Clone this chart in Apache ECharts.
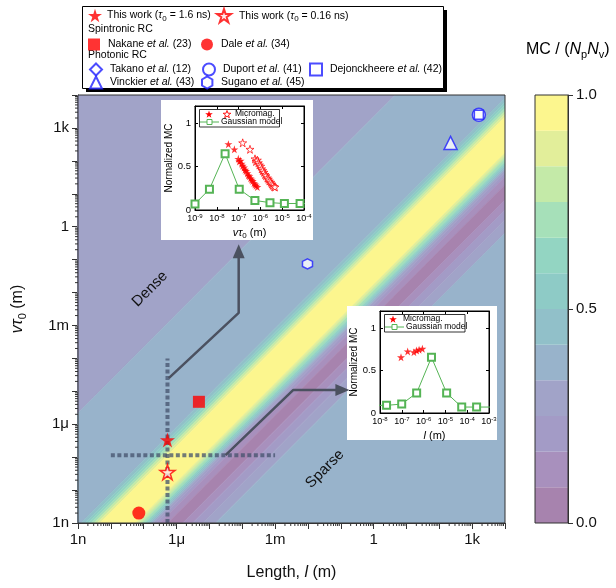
<!DOCTYPE html>
<html lang="en">
<head>
<meta charset="UTF-8">
<title>MC map</title>
<style>
  html, body { margin: 0; background: #fff; }
  #chart { width: 616px; height: 588px; }
</style>
</head>
<body>
<div id="chart"></div>
<script src="https://cdn.jsdelivr.net/npm/echarts@6/dist/echarts.min.js"></script>
<script>
const lg = Math.log10;
const FONT = '"Liberation Sans", Arial, sans-serif';

// main map: one label every three decades
const decadeLabels = { '-9': '1n', '-6': '1μ', '-3': '1m', '0': '1', '3': '1k' };

// colour of each MC/(NpNv) level, 0.0 -> 1.0 in twelve steps
const levelColors = ['#a783ae', '#a890bd', '#a39bc6', '#a1a3c8', '#98b3cb', '#91c0c9',
                     '#8ecbc6', '#93d5c2', '#a6e0b9', '#c4eaa8', '#e2ee9a', '#fcf68e'];

// contour bands: edges in log10(vτ0 / l), and the level that fills each band
const ratioEdges = [30, 3.34, -0.09, -0.21, -0.30, -0.40, -0.49, -0.58, -0.67, -1.76, -1.85, -1.94,
                    -2.04, -2.10, -2.16, -2.22, -2.28, -2.37, -2.49, -2.73, -3.19, -3.49, -3.80, -4.19, -30];
const bandLevels = [3, 4, 5, 6, 7, 8, 9, 10, 11, 10, 9, 8, 7, 6, 5, 4, 3, 2, 1, 0, 1, 2, 3, 4];

// reported systems, [l, vτ0] in metres
const thisWork16 = [5.3e-7, 3.3e-7];
const thisWork016 = [5.3e-7, 3.5e-8];
const nakane = [4.8e-6, 4.8e-6];
const dale = [7.1e-8, 2.0e-9];
const takano = [];
const duport = [1.6e3, 2.5e3];
const dejonckheere = [1.6e3, 2.5e3];
const vinckier = [2.2e2, 3.5e2];
const sugano = [9.7e-3, 7.4e-2];

// dotted sweep lines
const sweepL = 5.3e-7;
const sweepVtRange = [1e-9, 1e-4];
const sweepVt = 1.15e-7;
const sweepLRange = [1e-8, 1e-3];

// arrows from the sweeps to the insets, [l, vτ0] in metres
const arrowUp = [[5.8e-7, 2.5e-5], [7.8e-5, 2.4e-3], [7.8e-5, 0.18]];
const arrowRight = [[3.1e-5, 1.16e-7], [3.6e-3, 1.1e-5], [0.112, 1.1e-5]];

// inset 1: normalized MC vs vτ0
const g1Vt = [1e-9, 4.6e-9, 2.4e-8, 1.07e-7, 5.6e-7, 2.75e-6, 1.26e-5, 6.6e-5, 3.2e-4];
const g1MC = [0.07, 0.24, 0.65, 0.24, 0.11, 0.085, 0.075, 0.075, 0.075];
const mm1Vt = [3.4e-8, 6.4e-8, 9.7e-8, 1.08e-7, 1.24e-7, 1.38e-7, 1.54e-7, 1.77e-7, 1.97e-7, 2.18e-7,
               2.52e-7, 2.79e-7, 3.1e-7, 3.57e-7, 3.97e-7, 4.42e-7, 5.08e-7, 5.65e-7, 6.28e-7, 7.23e-7];
const mm1MC = [0.76, 0.70, 0.59, 0.56, 0.57, 0.535, 0.51, 0.49, 0.465, 0.45,
               0.425, 0.40, 0.39, 0.365, 0.35, 0.335, 0.31, 0.295, 0.28, 0.265];
const mm1bVt = [1.54e-7, 3.33e-7, 5.65e-7, 6.28e-7, 7.23e-7, 8.04e-7, 8.93e-7, 1.03e-6, 1.14e-6, 1.27e-6, 1.46e-6,
                1.63e-6, 1.81e-6, 2.08e-6, 2.31e-6, 2.57e-6, 2.96e-6, 3.29e-6, 3.66e-6, 4.21e-6, 4.68e-6];
const mm1bMC = [0.775, 0.70, 0.59, 0.56, 0.575, 0.545, 0.52, 0.505, 0.475, 0.455, 0.435,
                0.41, 0.395, 0.37, 0.355, 0.335, 0.32, 0.30, 0.285, 0.27, 0.265];

// inset 2: normalized MC vs l
const g2L = [4.2e-9, 2.0e-8, 9.9e-8, 4.8e-7, 2.3e-6, 1.14e-5, 5.6e-5, 2.7e-4, 1.3e-3];
const g2MC = [0.09, 0.09, 0.105, 0.235, 0.655, 0.235, 0.07, 0.07, 0.07];
const mm2L = [9.2e-8, 1.86e-7, 3.6e-7, 4.8e-7, 6.2e-7, 8.8e-7];
const mm2MC = [0.655, 0.725, 0.715, 0.735, 0.745, 0.755];

const insetYLabels = { '0': '0', '0.5': '0.5', '1': '1' };

// ---------- drawing ----------
const STAR = 'M50,0 L61.2,34.5 L97.6,34.5 L68.2,55.9 L79.4,90.5 L50,69.1 L20.6,90.5 L31.8,55.9 L2.4,34.5 L38.8,34.5 Z';
const HEX = 'M0,-10 L8.66,-5 L8.66,5 L0,10 L-8.66,5 L-8.66,-5 Z';
const RED = '#ff0000', BLUE = '#1f1fff', GREEN = '#55b455', ARROW = '#4b5160';

const chart = echarts.init(document.getElementById('chart'));

const rich = {
  i: { fontStyle: 'italic', fontFamily: FONT, fontSize: 16, lineHeight: 20 },
  s: { fontFamily: FONT, fontSize: 11, verticalAlign: 'bottom', lineHeight: 11 }
};
const smallRich = {
  i: { fontStyle: 'italic', fontFamily: FONT, fontSize: 10.5, lineHeight: 15 },
  s: { fontFamily: FONT, fontSize: 8, verticalAlign: 'bottom', lineHeight: 9 }
};
const supRich = { s: { fontFamily: FONT, fontSize: 6, verticalAlign: 'top', lineHeight: 6 } };

function pt(xy) { return [lg(xy[0]), lg(xy[1])]; }

// five-point star outline for the small legend icons
function starPoints(cx, cy, r) {
  const out = [];
  for (let k = 0; k < 10; k++) {
    const a = -Math.PI / 2 + k * Math.PI / 5, rr = k % 2 ? r * 0.4 : r;
    out.push([cx + rr * Math.cos(a), cy + rr * Math.sin(a)]);
  }
  return out;
}

function marker(name, xy, symbol, size, style) {
  return { name, type: 'scatter', xAxisIndex: 0, yAxisIndex: 0, z: 5, symbol, symbolSize: size,
    itemStyle: style, data: xy.length ? [pt(xy)] : [] };
}

function arrow(pts, rot) {
  return { type: 'line', xAxisIndex: 0, yAxisIndex: 0, z: 4, symbol: 'none', silent: true,
    lineStyle: { color: ARROW, width: 2.5 }, itemStyle: { color: ARROW },
    data: pts.map((p, i) => i === pts.length - 1
      ? { value: pt(p), symbol: 'triangle', symbolSize: [12, 14], symbolRotate: rot }
      : pt(p)) };
}

function dotted(pts) {
  return { type: 'line', xAxisIndex: 0, yAxisIndex: 0, z: 3, symbol: 'none', silent: true,
    lineStyle: { color: 'rgba(68,82,108,0.75)', width: 4, type: [4, 2.5], cap: 'butt' },
    data: pts.map(pt) };
}

function renderBand(params, api) {
  const hi = api.value(0), lo = api.value(1);
  const color = levelColors[api.value(2)];
  const a = -40, b = 40;
  const pts = [[a, a + lo], [b, b + lo], [b, b + hi], [a, a + hi]].map(p => api.coord(p));
  return { type: 'polygon', shape: { points: pts }, style: { fill: color, stroke: color, lineWidth: 0.6 } };
}

// log minor ticks (2..9 within each decade) on the main axes
const minorTicks = [];
for (let n = -9; n < 4; n++) for (let k = 2; k <= 9; k++) minorTicks.push([n + lg(k), -9]);

function renderMinor(horizontal) {
  return function (params, api) {
    const v = api.value(0);
    const p = horizontal ? api.coord([v, -9]) : api.coord([-9, v]);
    const shape = horizontal
      ? { x1: p[0], y1: p[1], x2: p[0], y2: p[1] + 3 }
      : { x1: p[0], y1: p[1], x2: p[0] - 3, y2: p[1] };
    return { type: 'line', shape, style: { stroke: '#333', lineWidth: 1 } };
  };
}

function insetAxes(grid, min, max, name) {
  const line = { onZero: false, lineStyle: { color: '#000' } };
  const tick = { show: true, inside: true, length: 3, lineStyle: { color: '#000' } };
  const x = [
    { gridIndex: grid, type: 'value', min, max, interval: 1, z: 3, axisLine: line, axisTick: tick,
      axisLabel: { formatter: v => '10{s|' + v + '}', fontFamily: FONT, fontSize: 9, lineHeight: 12, color: '#000', margin: 3, rich: supRich },
      splitLine: { show: false },
      name, nameLocation: 'middle', nameGap: 15,
      nameTextStyle: { fontFamily: FONT, fontSize: 11, color: '#000', lineHeight: 14, rich: {
        i: { fontStyle: 'italic', fontFamily: FONT, fontSize: 11, lineHeight: 14 },
        s: { fontFamily: FONT, fontSize: 8, verticalAlign: 'bottom', lineHeight: 8 } } } },
    { gridIndex: grid, type: 'value', min, max, interval: 1, z: 3, position: 'top', axisLine: line, axisTick: tick,
      axisLabel: { show: false }, splitLine: { show: false } }
  ];
  const y = [
    { gridIndex: grid, type: 'value', min: 0, max: 1.2, interval: 0.5, z: 3,
      axisLine: { show: true, ...line }, axisTick: tick,
      axisLabel: { formatter: v => insetYLabels[v] ?? '', fontFamily: FONT, fontSize: 9.5, color: '#000', margin: 4 },
      splitLine: { show: false },
      name: 'Normalized MC', nameLocation: 'middle', nameGap: 14,
      nameTextStyle: { fontFamily: FONT, fontSize: 10, color: '#000' } },
    { gridIndex: grid, type: 'value', min: 0, max: 1.2, interval: 0.5, z: 3, position: 'right',
      axisLine: { show: true, ...line }, axisTick: tick,
      axisLabel: { show: false }, splitLine: { show: false } }
  ];
  return { x, y };
}

const in1 = insetAxes(2, -9, -4, '{i|v}{i|τ}{s|0} (m)');
const in2 = insetAxes(3, -8, -3, '{i|l} (m)');

const mainAxisName = { fontFamily: FONT, fontSize: 16, color: '#111', lineHeight: 20, rich };
const mainLine = { onZero: false, lineStyle: { color: '#333' } };
const smallText = (x, y, text) => ({ type: 'text', z: 6, x, y,
  style: { text, fontFamily: FONT, fontSize: 8.5, fill: '#000', verticalAlign: 'middle' } });

const option = {
  animation: false,
  backgroundColor: '#fff',
  title: {
    text: 'MC / ({i|N}{s|p}{i|N}{s|v})', left: 521, top: 35,
    textStyle: { fontFamily: FONT, fontSize: 16, fontWeight: 'normal', color: '#000', lineHeight: 20, rich }
  },
  grid: [
    { left: 77, top: 95, width: 428, height: 428, show: true, z: 6, backgroundColor: 'transparent', borderColor: '#333', borderWidth: 1 },
    { left: 535, top: 95, width: 33, height: 428, show: true, z: 6, backgroundColor: 'transparent', borderColor: '#333', borderWidth: 1 },
    { left: 195, top: 106, width: 109, height: 104, show: true, z: 3, backgroundColor: 'transparent', borderColor: '#000', borderWidth: 1 },
    { left: 380, top: 311, width: 109, height: 102, show: true, z: 3, backgroundColor: 'transparent', borderColor: '#000', borderWidth: 1 }
  ],
  xAxis: [
    { gridIndex: 0, type: 'value', min: -9, max: 4, interval: 1, axisLine: mainLine,
      axisTick: { length: 6, lineStyle: { color: '#333' } },
      axisLabel: { formatter: v => decadeLabels[v] ?? '', fontFamily: FONT, fontSize: 15, color: '#111', margin: 9 },
      splitLine: { show: false },
      name: 'Length, {i|l} (m)', nameLocation: 'middle', nameGap: 40, nameTextStyle: mainAxisName },
    { gridIndex: 1, type: 'category', data: ['MC'], show: false },
    ...in1.x, ...in2.x
  ],
  yAxis: [
    { gridIndex: 0, type: 'value', min: -9, max: 4, interval: 1, axisLine: mainLine,
      axisTick: { length: 6, lineStyle: { color: '#333' } },
      axisLabel: { formatter: v => decadeLabels[v] ?? '', fontFamily: FONT, fontSize: 15, color: '#111', margin: 9 },
      splitLine: { show: false },
      name: '{i|v}{i|τ}{s|0} (m)', nameLocation: 'middle', nameGap: 50, nameTextStyle: mainAxisName },
    { gridIndex: 1, type: 'value', min: 0, max: 1, interval: 0.5, position: 'right',
      axisLine: { show: true, ...mainLine },
      axisTick: { show: true, length: 5, lineStyle: { color: '#333' } },
      axisLabel: { formatter: v => v.toFixed(1), fontFamily: FONT, fontSize: 15, color: '#111', margin: 8 },
      splitLine: { show: false } },
    ...in1.y, ...in2.y
  ],
  legend: [
    { name: 'This work (1.6 ns)', text: 'This work ({i|τ}{s|0} = 1.6 ns)', left: 88, top: 8, size: 14 },
    { name: 'This work (0.16 ns)', text: ' This work ({i|τ}{s|0} = 0.16 ns)', left: 216, top: 8, size: 14 },
    { name: 'Nakane', text: ' Nakane {i|et al.} (23)', left: 88, top: 37, size: 12 },
    { name: 'Dale', text: ' Dale {i|et al.} (34)', left: 201, top: 37, size: 12 },
    { name: 'Takano', text: ' Takano {i|et al.} (12)', left: 89, top: 62, size: 12 },
    { name: 'Duport', text: ' Duport {i|et al.} (41)', left: 202, top: 62, size: 12 },
    { name: 'Dejonckheere', text: ' Dejonckheere {i|et al.} (42)', left: 309, top: 62, size: 12 },
    { name: 'Vinckier', text: ' Vinckier {i|et al.} (43)', left: 89, top: 75, size: 12 },
    { name: 'Sugano', text: ' Sugano {i|et al.} (45)', left: 201, top: 75, size: 12 }
  ].map(c => ({
    data: [c.name], left: c.left, top: c.top, itemWidth: c.size, itemHeight: c.size, padding: 0,
    selectedMode: false, formatter: () => c.text,
    textStyle: { fontFamily: FONT, fontSize: 10.5, color: '#000', lineHeight: 15, rich: smallRich }
  })),
  graphic: [
    { type: 'rect', z: 1, shape: { x: 86, y: 10, width: 361, height: 82 }, style: { fill: '#000' } },
    { type: 'rect', z: 2, shape: { x: 82.5, y: 6.5, width: 361, height: 82 }, style: { fill: '#fff', stroke: '#000', lineWidth: 1 } },
    { type: 'text', z: 3, x: 88, y: 29, style: { text: 'Spintronic RC', fontFamily: FONT, fontSize: 10.5, fill: '#000', verticalAlign: 'middle' } },
    { type: 'text', z: 3, x: 88, y: 55, style: { text: 'Photonic RC', fontFamily: FONT, fontSize: 10.5, fill: '#000', verticalAlign: 'middle' } },
    // inset backgrounds
    { type: 'rect', z: 2, shape: { x: 161, y: 100, width: 152, height: 140 }, style: { fill: '#fff' } },
    { type: 'rect', z: 2, shape: { x: 347, y: 306, width: 150, height: 134 }, style: { fill: '#fff' } },
    // region labels
    { type: 'text', z: 4, x: 150, y: 289, rotation: Math.PI / 4,
      style: { text: 'Dense', fontFamily: FONT, fontSize: 15, fill: '#111', align: 'center', verticalAlign: 'middle' } },
    { type: 'text', z: 4, x: 325, y: 469, rotation: Math.PI / 4,
      style: { text: 'Sparse', fontFamily: FONT, fontSize: 15, fill: '#111', align: 'center', verticalAlign: 'middle' } },
    // inset 1 legend
    { type: 'rect', z: 5, shape: { x: 199.5, y: 109.5, width: 80, height: 17.5 }, style: { fill: '#fff', stroke: '#000', lineWidth: 0.8 } },
    { type: 'polygon', z: 6, shape: { points: starPoints(209, 114.5, 4) }, style: { fill: RED } },
    { type: 'polygon', z: 6, shape: { points: starPoints(227, 114.5, 4) }, style: { fill: '#fff', stroke: RED, lineWidth: 0.9 } },
    smallText(235, 114, 'Micromag.'),
    { type: 'line', z: 6, shape: { x1: 200, y1: 122, x2: 219, y2: 122 }, style: { stroke: GREEN, lineWidth: 1 } },
    { type: 'rect', z: 6, shape: { x: 207, y: 119.5, width: 5, height: 5 }, style: { fill: '#fff', stroke: GREEN, lineWidth: 1 } },
    smallText(221, 122, 'Gaussian model'),
    // inset 2 legend
    { type: 'rect', z: 5, shape: { x: 384.5, y: 314.5, width: 80.5, height: 17.5 }, style: { fill: '#fff', stroke: '#000', lineWidth: 0.8 } },
    { type: 'polygon', z: 6, shape: { points: starPoints(393, 319.5, 4) }, style: { fill: RED } },
    smallText(403, 319, 'Micromag.'),
    { type: 'line', z: 6, shape: { x1: 385, y1: 327, x2: 404, y2: 327 }, style: { stroke: GREEN, lineWidth: 1 } },
    { type: 'rect', z: 6, shape: { x: 392, y: 324.5, width: 5, height: 5 }, style: { fill: '#fff', stroke: GREEN, lineWidth: 1 } },
    smallText(406, 327, 'Gaussian model')
  ],
  series: [
    { type: 'custom', xAxisIndex: 0, yAxisIndex: 0, z: 1, clip: true, silent: true, renderItem: renderBand,
      data: bandLevels.map((lev, i) => [ratioEdges[i], ratioEdges[i + 1], lev]) },
    { type: 'custom', xAxisIndex: 0, yAxisIndex: 0, z: 3, silent: true, renderItem: renderMinor(true), data: minorTicks },
    { type: 'custom', xAxisIndex: 0, yAxisIndex: 0, z: 3, silent: true, renderItem: renderMinor(false), data: minorTicks },
    dotted([[sweepL, sweepVtRange[0]], [sweepL, sweepVtRange[1]]]),
    dotted([[sweepLRange[0], sweepVt], [sweepLRange[1], sweepVt]]),
    arrow(arrowUp, 0),
    arrow(arrowRight, -90),
    marker('This work (1.6 ns)', thisWork16, 'path://' + STAR, 15, { color: RED }),
    marker('This work (0.16 ns)', thisWork016, 'path://' + STAR, 15, { color: '#ffe6e6', borderColor: RED, borderWidth: 1.5 }),
    marker('Nakane', nakane, 'rect', 12, { color: RED }),
    marker('Dale', dale, 'circle', 13, { color: RED }),
    marker('Takano', takano, 'diamond', 12, { color: '#fff', borderColor: BLUE, borderWidth: 1.5 }),
    marker('Duport', duport, 'circle', 13, { color: '#fff', borderColor: BLUE, borderWidth: 1.5 }),
    marker('Dejonckheere', dejonckheere, 'rect', 9, { color: '#fff', borderColor: BLUE, borderWidth: 1.5 }),
    marker('Vinckier', vinckier, 'triangle', 13, { color: '#fff', borderColor: BLUE, borderWidth: 1.5 }),
    marker('Sugano', sugano, 'path://' + HEX, 10, { color: '#fff', borderColor: BLUE, borderWidth: 1.5 }),
    // colour bar
    ...levelColors.map(c => ({ type: 'bar', xAxisIndex: 1, yAxisIndex: 1, stack: 'cb', silent: true, z: 2,
      barWidth: '100%', itemStyle: { color: c }, data: [1 / levelColors.length] })),
    // inset 1
    { type: 'line', xAxisIndex: 2, yAxisIndex: 2, z: 4, symbol: 'emptyRect', symbolSize: 7,
      lineStyle: { color: GREEN, width: 1 }, itemStyle: { color: GREEN, borderWidth: 1 },
      data: g1Vt.map((v, i) => [lg(v), g1MC[i]]) },
    { type: 'scatter', xAxisIndex: 2, yAxisIndex: 2, z: 4, symbol: 'path://' + STAR, symbolSize: 8,
      itemStyle: { color: RED }, data: mm1Vt.map((v, i) => [lg(v), mm1MC[i]]) },
    { type: 'scatter', xAxisIndex: 2, yAxisIndex: 2, z: 4, symbol: 'path://' + STAR, symbolSize: 8,
      itemStyle: { color: '#fff', borderColor: RED, borderWidth: 0.9 }, data: mm1bVt.map((v, i) => [lg(v), mm1bMC[i]]) },
    // inset 2
    { type: 'line', xAxisIndex: 4, yAxisIndex: 4, z: 4, symbol: 'emptyRect', symbolSize: 7,
      lineStyle: { color: GREEN, width: 1 }, itemStyle: { color: GREEN, borderWidth: 1 },
      data: g2L.map((v, i) => [lg(v), g2MC[i]]) },
    { type: 'scatter', xAxisIndex: 4, yAxisIndex: 4, z: 4, symbol: 'path://' + STAR, symbolSize: 8,
      itemStyle: { color: RED }, data: mm2L.map((v, i) => [lg(v), mm2MC[i]]) }
  ]
};

chart.setOption(option);
</script>
</body>
</html>
